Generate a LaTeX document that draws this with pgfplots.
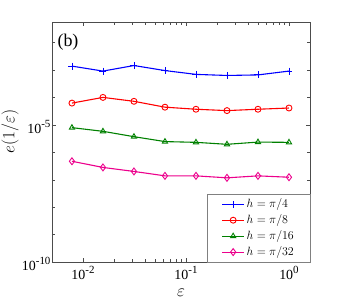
\documentclass[border=0pt]{standalone}
\usepackage{fontspec}
\setmainfont{Liberation Serif}
\usepackage{pgfplots}
\pgfplotsset{compat=1.18}
\definecolor{mgreen}{rgb}{0,0.5,0}
\definecolor{axgray}{rgb}{0.3,0.3,0.3}
\newcommand{\tl}[1]{10\raisebox{0.45em}{\fontsize{11}{11}\selectfont #1}}
\begin{document}
\begin{tikzpicture}
\begin{loglogaxis}[
  scale only axis,
  width=258bp, height=240bp,
  xmin=5e-3, xmax=1.6,
  ymin=1e-10, ymax=5.6e-2,
  xtick={1e-2,1e-1,1},
  xticklabels={\tl{-2},\tl{-1},\tl{0}},
  ytick={1e-10,1e-5},
  yticklabels={\tl{-10},\tl{-5}},
  minor ytick={1e-9,1e-8,1e-7,1e-6,1e-4,1e-3,1e-2},
  tick align=inside,
  major tick length=4bp, minor tick length=3bp,
  axis line style={axgray},
  every tick/.style={axgray},
  ticklabel style={font=\fontsize{14}{16}\selectfont},
  xticklabel style={anchor=north, yshift=-2.5bp, inner ysep=1.5bp},
  yticklabel style={anchor=east, xshift=2bp, yshift=-2bp},
  xlabel={$\varepsilon$},
  label style={font=\fontsize{19}{21}\selectfont},
  xlabel style={at={(rel axis cs:0.5,0)}, anchor=center, yshift=-31bp, inner sep=0.5bp},
  legend style={at={(rel axis cs:1,0)}, anchor=south east, draw=gray,
    font=\fontsize{12.5}{14}\selectfont, row sep=1.5bp, inner xsep=14bp, inner ysep=2.5bp},
  legend cell align=left,
  legend image code/.code={\draw[mark repeat=2,mark phase=2,#1] plot coordinates {(0bp,0bp) (11bp,0bp) (22bp,0bp)};},
  every axis plot/.append style={line width=1.1pt, mark size=3pt},
]
\coordinate (sw) at (rel axis cs:0,0);
\addplot[blue, mark=+, mark options={line width=0.9pt}, mark size=3.5pt] coordinates {
(0.0078125,1.38e-3) (0.015625,9.1e-4) (0.03125,1.45e-3) (0.0625,9.5e-4)
(0.125,6.9e-4) (0.25,6.3e-4) (0.5,6.6e-4) (1,9.1e-4)};
\addlegendentry{$h=\pi/4$}
\addplot[red, mark=o, mark options={line width=0.9pt}] coordinates {
(0.0078125,6.2e-5) (0.015625,1.0e-4) (0.03125,7.2e-5) (0.0625,4.4e-5)
(0.125,3.7e-5) (0.25,3.3e-5) (0.5,3.7e-5) (1,4.1e-5)};
\addlegendentry{$h=\pi/8$}
\addplot[mgreen, mark=triangle, mark options={line width=0.9pt}] coordinates {
(0.0078125,7.9e-6) (0.015625,5.8e-6) (0.03125,3.7e-6) (0.0625,2.45e-6)
(0.125,2.3e-6) (0.25,1.95e-6) (0.5,2.35e-6) (1,2.3e-6)};
\addlegendentry{$h=\pi/16$}
\addplot[magenta, mark=diamond, mark options={line width=0.9pt}, mark size=3.5pt] coordinates {
(0.0078125,4.7e-7) (0.015625,2.8e-7) (0.03125,2.0e-7) (0.0625,1.38e-7)
(0.125,1.38e-7) (0.25,1.17e-7) (0.5,1.38e-7) (1,1.23e-7)};
\addlegendentry{$h=\pi/32$}
\node[anchor=center, font=\fontsize{18}{20}\selectfont] at (rel axis cs:0.062,0.917) {(b)};
\end{loglogaxis}
\node[rotate=90, font=\fontsize{19}{21}\selectfont] at ([xshift=-42bp,yshift=130.5bp]sw) {$e(1/\varepsilon)$};
\pgfresetboundingbox
\path (sw) ++(-52bp,-38bp) rectangle ++(343bp,300bp);
\end{tikzpicture}
\end{document}
